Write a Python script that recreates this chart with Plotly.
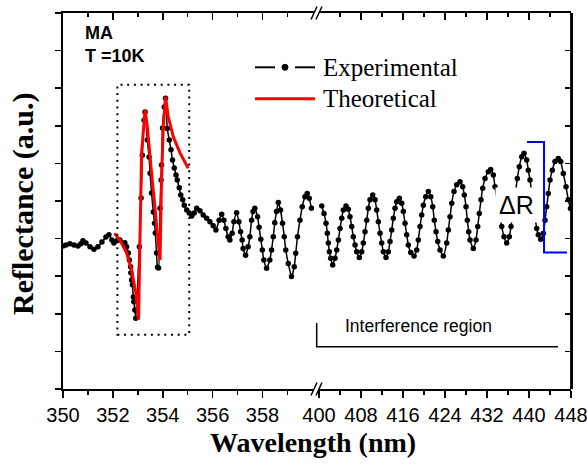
import plotly.graph_objects as go

# ---------------- data ----------------
left_wl = [350.00, 350.12, 350.28, 350.44, 350.60, 350.72, 350.80, 350.92, 351.08, 351.24,
           351.40, 351.56, 351.72, 351.84, 351.96, 352.04, 352.16, 352.28, 352.48, 352.55,
           352.62, 352.66, 352.71, 352.72, 352.75, 352.78, 352.82, 352.84, 352.88, 352.92,
           353.06, 353.13, 353.18, 353.25, 353.29, 353.38, 353.45, 353.49, 353.55, 353.62,
           353.67, 353.70, 353.75, 353.79, 353.83, 353.89, 353.93, 353.95, 353.99, 354.06,
           354.11, 354.18, 354.26, 354.33, 354.39, 354.46, 354.53, 354.58, 354.66, 354.72,
           354.80, 354.86, 354.96, 355.06, 355.16, 355.26, 355.36, 355.49, 355.62, 355.76,
           355.89, 356.02, 356.13, 356.26, 356.36, 356.45, 356.53, 356.62, 356.69, 356.78,
           356.85, 356.96, 357.05, 357.12, 357.18, 357.22, 357.32, 357.42, 357.49, 357.56,
           357.62, 357.69, 357.80, 357.86, 357.93, 357.99, 358.05, 358.16, 358.29, 358.36,
           358.43, 358.49, 358.56, 358.63, 358.72, 358.80, 358.87, 358.93, 359.03, 359.16,
           359.27, 359.33, 359.40, 359.50, 359.59, 359.70, 359.79, 359.87, 359.96]
left_refl = [3.80, 3.83, 3.86, 3.83, 3.80, 3.86, 3.94, 3.88, 3.78, 3.72,
             3.78, 3.91, 4.04, 4.10, 3.96, 3.88, 3.94, 3.96, 3.89, 3.78,
             3.62, 3.43, 3.25, 3.09, 2.90, 2.77, 2.45, 2.32, 2.10, 1.88,
             3.78, 5.08, 6.22, 7.15, 7.37, 6.62, 6.17, 5.74, 5.21, 4.71,
             4.41, 4.15, 3.62, 3.24, 3.22, 4.81, 5.56, 5.96, 6.94, 7.50,
             7.73, 6.93, 6.62, 6.36, 6.09, 5.88, 5.69, 5.56, 5.35, 5.16,
             5.03, 4.89, 4.76, 4.68, 4.60, 4.68, 4.81, 4.74, 4.63, 4.54,
             4.45, 4.34, 4.23, 4.49, 4.65, 4.49, 4.27, 4.05, 3.96, 4.14,
             4.45, 4.69, 4.45, 4.18, 3.96, 3.74, 3.56, 3.78, 4.05, 4.49,
             4.72, 4.81, 4.58, 4.30, 3.98, 3.70, 3.43, 3.21, 3.43, 3.70,
             4.05, 4.42, 4.72, 4.96, 4.76, 4.41, 4.05, 3.70, 3.34, 2.99,
             3.25, 3.61, 4.05, 4.49, 4.85, 5.11, 5.20, 5.07, 4.81]

right_wl = [400.51, 400.95, 401.33, 401.58, 401.77, 401.96, 402.22, 402.60, 403.05, 403.37,
            403.68, 404.00, 404.32, 404.63, 405.14, 405.58, 405.90, 406.23, 406.53, 406.86,
            407.18, 407.68, 408.13, 408.44, 408.76, 409.09, 409.39, 409.71, 410.23, 410.67,
            410.99, 411.30, 411.62, 411.94, 412.25, 412.76, 413.20, 413.52, 413.85, 414.15,
            414.48, 414.80, 415.30, 415.75, 416.06, 416.38, 416.70, 417.01, 417.47, 418.10,
            418.61, 418.91, 419.24, 419.56, 419.87, 420.32, 420.82, 421.28, 421.66, 421.96,
            422.29, 422.61, 423.05, 423.68, 424.32, 424.63, 424.95, 425.28, 425.71, 426.23,
            426.86, 427.37, 427.68, 428.00, 428.25, 428.51, 428.76, 429.39, 429.90, 430.23,
            430.53, 430.86, 431.18, 431.62, 432.25, 432.70, 433.20, 433.52, 434.80, 435.24,
            435.75, 436.25, 436.57, 437.77, 438.15, 438.61, 439.05, 439.56, 439.87, 440.19,
            441.47, 441.77, 442.23, 442.73, 443.05, 443.37, 443.68, 444.00, 444.44, 444.95,
            445.58, 446.04, 446.53, 447.05, 447.49, 447.90]
right_refl = [4.87, 4.67, 4.41, 4.14, 3.88, 3.65, 3.48, 3.30, 3.48, 3.70,
              3.96, 4.27, 4.54, 4.76, 4.87, 4.78, 4.58, 4.32, 4.05, 3.83,
              3.65, 3.50, 3.65, 3.88, 4.18, 4.49, 4.81, 5.03, 5.16, 5.03,
              4.76, 4.45, 4.14, 3.88, 3.65, 3.50, 3.65, 3.92, 4.23, 4.54,
              4.81, 4.98, 5.07, 4.94, 4.72, 4.41, 4.10, 3.83, 3.63, 3.54,
              3.70, 3.96, 4.32, 4.63, 4.89, 5.11, 5.25, 5.11, 4.85, 4.49,
              4.18, 3.92, 3.70, 3.54, 3.88, 4.23, 4.58, 4.94, 5.25, 5.43,
              5.51, 5.38, 5.16, 4.85, 4.49, 4.18, 3.96, 3.74, 3.96, 4.32,
              4.67, 5.03, 5.34, 5.60, 5.78, 5.84, 5.69, 5.38, 4.32, 4.05,
              3.88, 4.05, 4.32, 5.60, 5.91, 6.18, 6.27, 6.09, 5.82, 5.56,
              4.27, 4.10, 3.98, 4.14, 4.49, 4.85, 5.20, 5.56, 5.82, 6.05,
              6.13, 6.05, 5.73, 5.38, 5.03, 4.80]

theo_wl = [352.06, 352.28, 352.55, 352.75, 352.92, 353.03, 353.08, 353.15, 353.29, 353.38,
           353.55, 353.75, 353.89, 353.95, 354.02, 354.11, 354.22, 354.42, 354.69, 355.02]
theo_refl = [4.14, 3.96, 3.62, 3.16, 2.55, 1.84, 3.78, 6.28, 7.42, 6.98,
             5.74, 4.49, 3.43, 5.56, 6.98, 7.77, 7.24, 6.71, 6.28, 5.87]

left_ticks = [350, 352, 354, 356, 358]
left_minor = [351, 353, 355, 357, 359]
right_ticks = [400, 408, 416, 424, 432, 440, 448]
right_minor = [404, 412, 420, 428, 436, 444]
y_ticks = list(range(0, 11))

assert len(left_wl) == len(left_refl)
assert len(right_wl) == len(right_refl)
assert len(theo_wl) == len(theo_refl)

SANS = "Liberation Sans"
SERIF = "Liberation Serif"

fig = go.Figure()

exp_style = dict(mode="lines+markers",
                 line=dict(color="black", width=1.5, shape="spline", smoothing=0.5),
                 marker=dict(color="black", size=5.5), showlegend=False, hoverinfo="skip")
fig.add_trace(go.Scatter(x=left_wl, y=left_refl, xaxis="x", yaxis="y", **exp_style))
fig.add_trace(go.Scatter(x=right_wl, y=right_refl, xaxis="x2", yaxis="y", **exp_style))
fig.add_trace(go.Scatter(x=theo_wl, y=theo_refl, xaxis="x", yaxis="y", mode="lines",
                         line=dict(color="#ff0000", width=3), showlegend=False,
                         hoverinfo="skip"))
# empty traces so the mirror axes are drawn
fig.add_trace(go.Scatter(x=[], y=[], xaxis="x3", yaxis="y", showlegend=False))
fig.add_trace(go.Scatter(x=[], y=[], xaxis="x4", yaxis="y", showlegend=False))
fig.add_trace(go.Scatter(x=[], y=[], xaxis="x2", yaxis="y2", showlegend=False))

d_left = [0, 0.494]
d_right = [0.504, 1]
L_RANGE = [350, 360.06]
R_RANGE = [400, 448]

common_x = dict(showline=True, linecolor="black", linewidth=1.8, showgrid=False,
                zeroline=False, tickcolor="black", tickwidth=1.5, automargin=False,
                ticklabeloverflow="allow",
                tickfont=dict(family=SANS, size=20, color="black"))

fig.update_layout(
    width=587, height=470,
    margin=dict(l=63, r=16, t=13, b=81, autoexpand=False),
    paper_bgcolor="white", plot_bgcolor="white",
    xaxis=dict(domain=d_left, range=L_RANGE, anchor="y", tickmode="array",
               tickvals=left_ticks, ticktext=[str(t) for t in left_ticks],
               ticks="outside", ticklen=7,
               minor=dict(tickmode="array", tickvals=left_minor, ticks="outside",
                          ticklen=4, tickcolor="black", tickwidth=1.5),
               **common_x),
    xaxis2=dict(domain=d_right, range=R_RANGE, anchor="y", tickmode="array",
                tickvals=right_ticks, ticktext=[str(t) for t in right_ticks],
                ticks="outside", ticklen=7,
                minor=dict(tickmode="array", tickvals=right_minor, ticks="outside",
                           ticklen=4, tickcolor="black", tickwidth=1.5),
                **common_x),
    xaxis3=dict(overlaying="x", side="top", anchor="y", range=L_RANGE, domain=d_left,
                tickmode="array", tickvals=left_ticks, ticks="inside", ticklen=7,
                showticklabels=False,
                minor=dict(tickmode="array", tickvals=left_minor, ticks="inside",
                           ticklen=4, tickcolor="black", tickwidth=1.5),
                **common_x),
    xaxis4=dict(overlaying="x2", side="top", anchor="y", range=R_RANGE, domain=d_right,
                tickmode="array", tickvals=right_ticks, ticks="inside", ticklen=7,
                showticklabels=False,
                minor=dict(tickmode="array", tickvals=right_minor, ticks="inside",
                           ticklen=4, tickcolor="black", tickwidth=1.5),
                **common_x),
    yaxis=dict(domain=[0, 1], range=[0, 10], anchor="x", tickmode="array", tickvals=y_ticks,
               ticks="outside", ticklen=6.5, tickcolor="black", tickwidth=1.5,
               showticklabels=False, showline=True, linecolor="black", linewidth=2,
               showgrid=False, zeroline=False, automargin=False),
    yaxis2=dict(overlaying="y", side="right", anchor="free", position=1, range=[0, 10],
                tickmode="array", tickvals=y_ticks, ticks="inside", ticklen=6.5,
                tickcolor="black", tickwidth=1.5, showticklabels=False, showline=True,
                linecolor="black", linewidth=1.8, showgrid=False, zeroline=False,
                automargin=False),
)

shapes = []
# axis-break slashes (bottom and top)
for (y0, y1) in [(-0.0173, 0.0173), (0.9827, 1.0173)]:
    for (x0, x1) in [(0.4882, 0.5), (0.4980, 0.5098)]:
        shapes.append(dict(type="line", xref="paper", yref="paper", x0=x0, x1=x1,
                           y0=y0, y1=y1, line=dict(color="black", width=1.5)))
# right frame edge (backup for the mirror axis line)
shapes.append(dict(type="line", xref="paper", yref="paper", x0=1, x1=1, y0=0, y1=1,
                   line=dict(color="black", width=1.8)))
# dotted box round the exciton region
shapes.append(dict(type="rect", xref="x", yref="y", x0=352.18, x1=355.06, y0=1.44, y1=8.09,
                   line=dict(color="black", width=2, dash="2px,4.7px")))
# blue ΔR bracket
shapes.append(dict(type="path", xref="x2", yref="y",
                   path="M 439.62 6.57 L 442.86 6.57 L 442.86 3.63 L 447.24 3.63",
                   line=dict(color="#0000ff", width=2)))
# interference region bracket
shapes.append(dict(type="path", xref="paper", yref="paper",
                   path="M 0.4994 0.1755 L 0.4994 0.1125 L 0.9744 0.1125",
                   line=dict(color="black", width=1.5)))
# legend samples
shapes.append(dict(type="line", xref="paper", yref="paper", x0=0.378, x1=0.4173,
                   y0=0.8556, y1=0.8556, line=dict(color="black", width=2)))
shapes.append(dict(type="line", xref="paper", yref="paper", x0=0.4567, x1=0.4961,
                   y0=0.8556, y1=0.8556, line=dict(color="black", width=2)))
shapes.append(dict(type="circle", xref="paper", yref="paper", x0=0.4311, x1=0.4429,
                   y0=0.8476, y1=0.8636, fillcolor="black", line=dict(color="black", width=1)))
shapes.append(dict(type="line", xref="paper", yref="paper", x0=0.378, x1=0.4961,
                   y0=0.772, y1=0.772, line=dict(color="#ff0000", width=3)))
fig.update_layout(shapes=shapes)

ann = [
    dict(text="MA", x=0.039, y=0.948, xanchor="left", yanchor="middle",
         font=dict(family=SANS, size=18, color="black", weight="bold")),
    dict(text="T =10K", x=0.039, y=0.886, xanchor="left", yanchor="middle",
         font=dict(family=SANS, size=18, color="black", weight="bold")),
    dict(text="Experimental", x=0.5073, y=0.8556, xanchor="left", yanchor="middle",
         font=dict(family=SERIF, size=25, color="black")),
    dict(text="Theoretical", x=0.5073, y=0.772, xanchor="left", yanchor="middle",
         font=dict(family=SERIF, size=25, color="black")),
    dict(text="Interference region", x=0.6998, y=0.1684, xanchor="center", yanchor="middle",
         font=dict(family=SANS, size=17.5, color="black")),
    dict(text="Wavelength (nm)", x=0.492, y=-0.141, xanchor="center", yanchor="middle",
         font=dict(family=SERIF, size=28, color="black", weight="bold")),
    dict(text="Reflectance (a.u.)", x=-0.0787, y=0.492, xanchor="center", yanchor="middle",
         textangle=-90, font=dict(family=SERIF, size=30, color="black", weight="bold")),
]
for a in ann:
    a.update(xref="paper", yref="paper", showarrow=False)
ann.append(dict(text="ΔR", x=437.71, y=4.89, xref="x2", yref="y", showarrow=False,
                xanchor="center", yanchor="middle", bgcolor="white", borderpad=3,
                font=dict(family=SANS, size=25, color="black")))
fig.update_layout(annotations=ann)

fig.write_html("out.html", config={"displayModeBar": False, "staticPlot": True},
               post_script="document.body.style.margin='0';document.body.style.overflow='hidden';")
